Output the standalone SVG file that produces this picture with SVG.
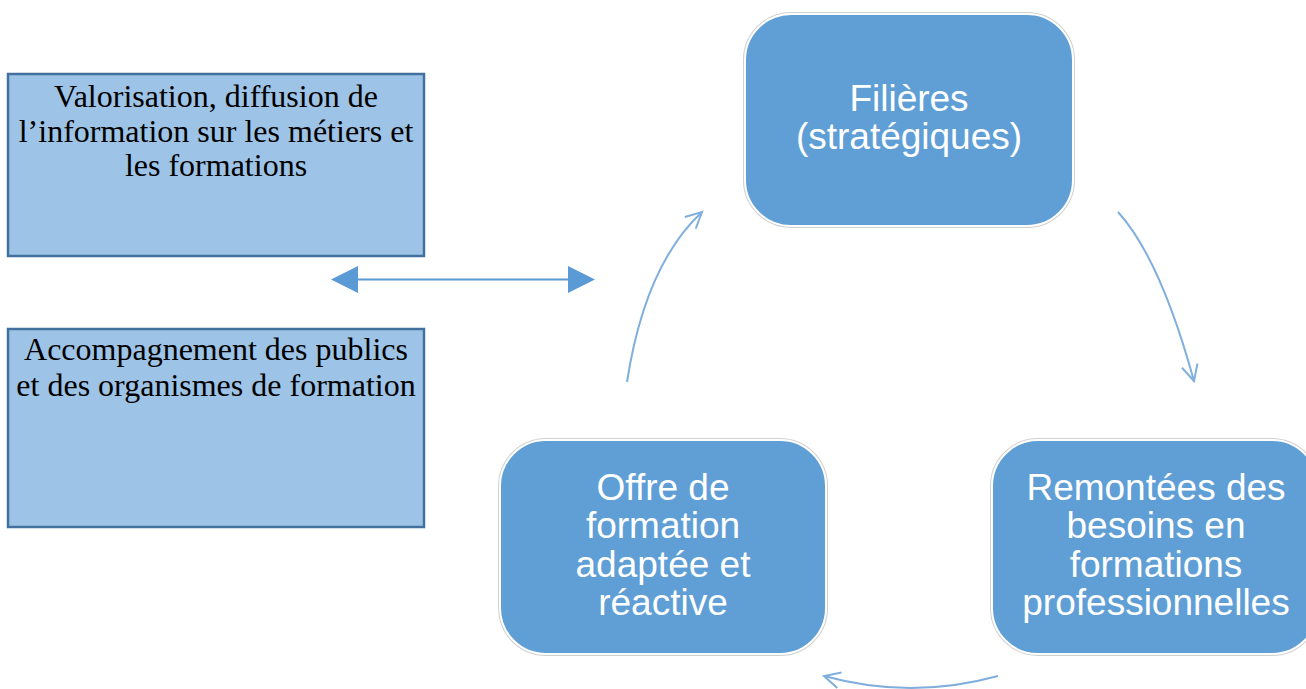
<svg xmlns="http://www.w3.org/2000/svg" width="1306" height="689" viewBox="0 0 1306 689">
<style>
.sq{fill:#9DC3E6;stroke:#41719C;stroke-width:2.5}
.rb{fill:#5F9FD6;stroke:#FFFFFF;stroke-width:2}
.rbo{fill:none;stroke:#D0D0D0;stroke-width:4}
.st{font-family:"Liberation Serif","Times New Roman",serif;font-size:32px;fill:#000;text-anchor:middle}
.wt{font-family:"Liberation Sans",Arial,sans-serif;font-size:37px;fill:#FFFFFF;text-anchor:middle}
.arc{fill:none;stroke:#80AFDD;stroke-width:2}
</style>
<defs>
<marker id="chev" markerWidth="24" markerHeight="24" refX="20" refY="12" orient="auto" markerUnits="userSpaceOnUse">
<path d="M4,4 L20,12 L4,20" fill="none" stroke="#80AFDD" stroke-width="2"/>
</marker>
</defs>
<g id="box-valorisation">
<rect class="sq" x="8" y="74" width="416" height="182"/>
<text class="st" x="216" y="107">Valorisation, diffusion de</text>
<text class="st" x="216" y="142">l’information sur les métiers et</text>
<text class="st" x="216" y="176">les formations</text>
</g>
<g id="box-accompagnement">
<rect class="sq" x="8" y="329" width="416" height="198"/>
<text class="st" x="216" y="360">Accompagnement des publics</text>
<text class="st" x="216" y="396">et des organismes de formation</text>
</g>
<g id="node-filieres">
<rect class="rbo" x="745" y="14" width="328" height="212" rx="46"/>
<rect class="rb" x="745" y="14" width="328" height="212" rx="46"/>
<text class="wt" x="909" y="111">Filières</text>
<text class="wt" x="909" y="149">(stratégiques)</text>
</g>
<g id="node-remontees">
<rect class="rbo" x="992" y="440" width="326" height="214" rx="46"/>
<rect class="rb" x="992" y="440" width="326" height="214" rx="46"/>
<text class="wt" x="1156" y="500">Remontées des</text>
<text class="wt" x="1156" y="538">besoins en</text>
<text class="wt" x="1156" y="577">formations</text>
<text class="wt" x="1156" y="615">professionnelles</text>
</g>
<g id="node-offre">
<rect class="rbo" x="500" y="440" width="326" height="214" rx="46"/>
<rect class="rb" x="500" y="440" width="326" height="214" rx="46"/>
<text class="wt" x="663" y="500">Offre de</text>
<text class="wt" x="663" y="538">formation</text>
<text class="wt" x="663" y="577">adaptée et</text>
<text class="wt" x="663" y="615">réactive</text>
</g>
<g id="connectors">
<line x1="355" y1="279.5" x2="571" y2="279.5" stroke="#5B9BD5" stroke-width="2"/>
<polygon points="331,279.5 358,266 358,293" fill="#5B9BD5"/>
<polygon points="595,279.5 568,266 568,293" fill="#5B9BD5"/>
<path class="arc" d="M627,382 Q645,265 702,212" marker-end="url(#chev)"/>
<path class="arc" d="M1118,212 Q1160,258 1194,381" marker-end="url(#chev)"/>
<path class="arc" d="M998,676 Q911,700 824,676" marker-end="url(#chev)"/>
</g>
</svg>
